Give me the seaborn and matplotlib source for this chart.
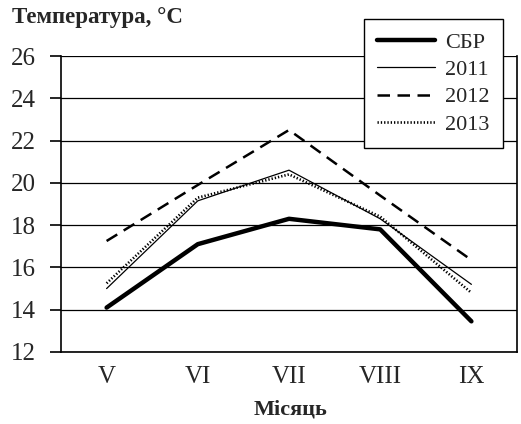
import matplotlib
matplotlib.use("Agg")
import matplotlib.pyplot as plt
import seaborn as sns
import pandas as pd

months = ["V", "VI", "VII", "VIII", "IX"]
sbr = [14.1, 17.1, 18.3, 17.8, 13.45]
y2011 = [15.0, 19.15, 20.6, 18.3, 15.2]
y2012 = [17.25, 19.9, 22.5, 19.4, 16.35]
y2013 = [15.25, 19.3, 20.4, 18.4, 14.8]
series_names = ["СБР", "2011", "2012", "2013"]
yticks = [12, 14, 16, 18, 20, 22, 24, 26]

sns.set_style("white")
plt.rcParams['font.family'] = ['Liberation Serif', 'DejaVu Serif']

fig = plt.figure(figsize=(5.21, 4.24), dpi=100)
ax = fig.add_axes([61/521, 1-352/424, (517-61)/521, (352-56)/424])

styles = {
    "СБР": dict(lw=3.2, ls="-"),
    "2011": dict(lw=0.9, ls="-"),
    "2012": dict(lw=1.8, ls=(0, (5, 3))),
    "2013": dict(lw=1.9, ls=(0, (0.5, 0.75))),
}
data = dict(zip(series_names, [sbr, y2011, y2012, y2013]))
for name in series_names:
    df = pd.DataFrame({"x": list(range(len(months))), "y": data[name]})
    sns.lineplot(data=df, x="x", y="y", ax=ax, color="black", label=name,
                 linewidth=styles[name]["lw"], linestyle=styles[name]["ls"])

ax.set_xlim(-0.5, len(months) - 0.5)
ax.set_ylim(12, 26)
ax.set_yticks(yticks)
ax.set_yticklabels([str(t) for t in yticks], fontsize=18)
ax.yaxis.grid(True, color="black", linewidth=0.9)
ax.xaxis.grid(False)
ax.set_axisbelow(True)

ax.set_xticks([i - 0.5 for i in range(len(months) + 1)])
ax.set_xticklabels([])
ax.set_xticks(list(range(len(months))), minor=True)
ax.set_xticklabels(months, minor=True, fontsize=18)
ax.tick_params(axis="x", which="major", direction="inout", length=8, width=1.2, color="black")
ax.tick_params(axis="x", which="minor", length=0, pad=10)
ax.tick_params(axis="y", direction="out", length=8, width=1.2, color="black", pad=10, left=True)

for s in ["left", "bottom", "right"]:
    ax.spines[s].set_color("black")
    ax.spines[s].set_linewidth(1.2)
ax.spines["top"].set_visible(False)
ax.set_xlabel("")
ax.set_ylabel("")

leg = ax.legend(loc="upper left", bbox_to_anchor=(364/521, 1-19/424),
                bbox_transform=fig.transFigure, fontsize=16, frameon=True,
                fancybox=False, shadow=False, edgecolor="black",
                handlelength=2.6, handletextpad=0.45, labelspacing=0.3,
                borderpad=0.6, borderaxespad=0, framealpha=1)
leg.get_frame().set_linewidth(1.0)

fig.text(12/521, 1-18/424, "Температура, °C", fontsize=16.5, fontweight="bold",
         ha="left", va="center")
fig.text(290/521, 1-410/424, "Місяць", fontsize=16, fontweight="bold",
         ha="center", va="center")

fig.savefig("out.png", dpi=100)
